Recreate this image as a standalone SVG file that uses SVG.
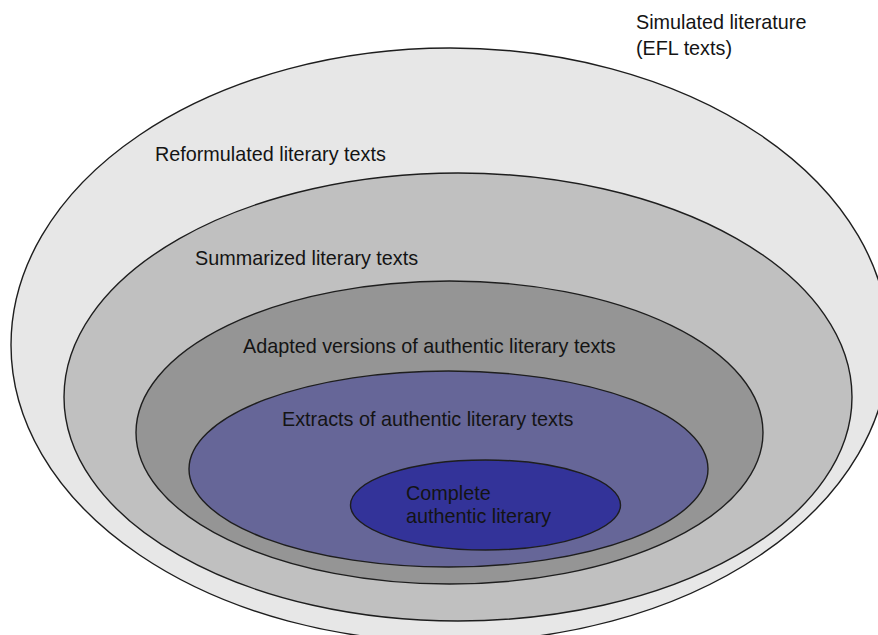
<svg xmlns="http://www.w3.org/2000/svg" width="878" height="635" viewBox="0 0 878 635">
<style>
  .ring { stroke: #1e1e1e; stroke-width: 1.4; }
  .lbl { font-family: "Liberation Sans", Arial, sans-serif; font-size: 19.8px; fill: #141414; }
</style>
<rect x="0" y="0" width="878" height="635" fill="#ffffff"/>
<g id="title">
  <text class="lbl" x="636" y="29">Simulated literature</text>
  <text class="lbl" x="636" y="55">(EFL texts)</text>
</g>
<g id="reformulated">
  <ellipse class="ring" cx="450" cy="345" rx="439" ry="297" fill="#e7e7e7"/>
  <text class="lbl" x="155" y="161">Reformulated literary texts</text>
</g>
<g id="summarized">
  <ellipse class="ring" cx="458" cy="397" rx="394" ry="224" fill="#c0c0c0"/>
  <text class="lbl" x="195" y="265">Summarized literary texts</text>
</g>
<g id="adapted">
  <ellipse class="ring" cx="449.5" cy="432.5" rx="313.5" ry="151.5" fill="#959595"/>
  <text class="lbl" x="243" y="353">Adapted versions of authentic literary texts</text>
</g>
<g id="extracts">
  <ellipse class="ring" cx="448.5" cy="469" rx="259.5" ry="98" fill="#666698"/>
  <text class="lbl" x="282" y="426">Extracts of authentic literary texts</text>
</g>
<g id="complete">
  <ellipse class="ring" cx="485.5" cy="505" rx="135" ry="45" fill="#333399"/>
  <text class="lbl" x="406" y="500">Complete</text>
  <text class="lbl" x="406" y="523">authentic literary</text>
</g>
<g id="connectors"></g>
</svg>
